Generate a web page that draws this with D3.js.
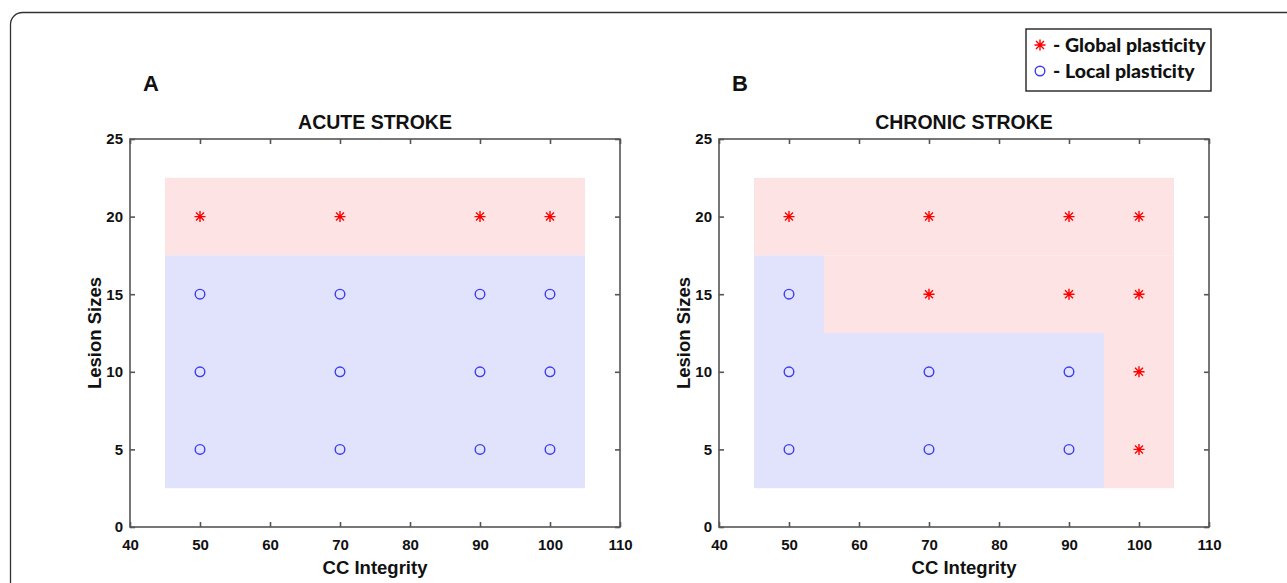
<!DOCTYPE html>
<html>
<head>
<meta charset="utf-8">
<script src="https://cdn.jsdelivr.net/npm/d3@7"></script>
<style>
  body { margin: 0; background: #fff; }
</style>
</head>
<body>
<div id="chart"></div>
<script>
// ticks
var xTicks = [40, 50, 60, 70, 80, 90, 100, 110];
var yTicks = [0, 5, 10, 15, 20, 25];

// panel A: acute stroke
var acuteGlobal = [[50, 20], [70, 20], [90, 20], [100, 20]];
var acuteLocal = [[50, 15], [70, 15], [90, 15], [100, 15],
                  [50, 10], [70, 10], [90, 10], [100, 10],
                  [50, 5], [70, 5], [90, 5], [100, 5]];
// regions as [x0, x1, y0, y1]
var acuteRed = [[45, 105, 17.5, 22.5]];
var acuteBlue = [[45, 105, 2.5, 17.5]];

// panel B: chronic stroke
var chronicGlobal = [[50, 20], [70, 20], [90, 20], [100, 20],
                     [70, 15], [90, 15], [100, 15],
                     [100, 10], [100, 5]];
var chronicLocal = [[50, 15], [50, 10], [70, 10], [90, 10],
                    [50, 5], [70, 5], [90, 5]];
var chronicRed = [[45, 105, 17.5, 22.5], [55, 105, 12.5, 17.5], [95, 105, 2.5, 12.5]];
var chronicBlue = [[45, 55, 2.5, 17.5], [55, 95, 2.5, 12.5]];

var width = 1287, height = 583;
var FONT = '"Liberation Sans", Arial, sans-serif';

var svg = d3.select('#chart').append('svg')
    .attr('width', width)
    .attr('height', height);

// outer frame of the figure
svg.append('rect')
    .attr('x', 10.5).attr('y', 12.5)
    .attr('width', 1300).attr('height', 600)
    .attr('rx', 12)
    .attr('fill', 'none')
    .attr('stroke', '#333')
    .attr('stroke-width', 1.3);

var label = function (sel, size) {
    return sel.style('font-family', FONT).style('font-weight', 'bold')
        .style('font-size', size + 'px').attr('fill', '#111');
};

var drawPanel = function (left, letter, title, reds, blues, globals, locals) {
    var x = d3.scaleLinear().domain([40, 110]).range([left, left + 490]);
    var y = d3.scaleLinear().domain([0, 25]).range([527, 139]);
    var g = svg.append('g');

    reds.forEach(function (r) {
        g.append('rect')
            .attr('x', x(r[0])).attr('y', y(r[3]))
            .attr('width', x(r[1]) - x(r[0])).attr('height', y(r[2]) - y(r[3]))
            .attr('fill', '#fde3e4');
    });
    blues.forEach(function (r) {
        g.append('rect')
            .attr('x', x(r[0])).attr('y', y(r[3]))
            .attr('width', x(r[1]) - x(r[0])).attr('height', y(r[2]) - y(r[3]))
            .attr('fill', '#e1e2fb');
    });

    // box + inward ticks
    var axCol = '#555';
    g.append('rect')
        .attr('x', x(40)).attr('y', y(25))
        .attr('width', x(110) - x(40)).attr('height', y(0) - y(25))
        .attr('fill', 'none').attr('stroke', axCol).attr('stroke-width', 1.6);

    var xAxis = g.append('g').attr('transform', 'translate(0,' + y(0) + ')')
        .call(d3.axisBottom(x).tickValues(xTicks).tickSizeInner(-5).tickSizeOuter(0).tickPadding(12));
    var yAxis = g.append('g').attr('transform', 'translate(' + x(40) + ',0)')
        .call(d3.axisLeft(y).tickValues(yTicks).tickSizeInner(-5).tickSizeOuter(0).tickPadding(7));
    var xTop = g.append('g').attr('transform', 'translate(0,' + y(25) + ')')
        .call(d3.axisTop(x).tickValues(xTicks).tickSizeInner(-5).tickSizeOuter(0).tickFormat(''));
    var yRight = g.append('g').attr('transform', 'translate(' + x(110) + ',0)')
        .call(d3.axisRight(y).tickValues(yTicks).tickSizeInner(-5).tickSizeOuter(0).tickFormat(''));
    [xAxis, yAxis, xTop, yRight].forEach(function (a) {
        a.select('.domain').remove();
        a.attr('font-size', 15).attr('font-family', FONT).attr('font-weight', 'bold');
        a.selectAll('line').attr('stroke', axCol).attr('stroke-width', 1.6);
        a.selectAll('text').attr('fill', '#111');
    });

    // markers
    var star = 'M0,-5.5V5.5M-5.5,0H5.5M-4,-4L4,4M-4,4L4,-4';
    g.selectAll('.glob').data(globals).enter().append('path')
        .attr('d', star)
        .attr('transform', function (d) { return 'translate(' + x(d[0]) + ',' + y(d[1]) + ')'; })
        .attr('stroke', '#f00').attr('stroke-width', 1.4).attr('fill', 'none');
    g.selectAll('.loc').data(locals).enter().append('circle')
        .attr('cx', function (d) { return x(d[0]); })
        .attr('cy', function (d) { return y(d[1]); })
        .attr('r', 4.8)
        .attr('stroke', '#3c3cf0').attr('stroke-width', 1.4).attr('fill', 'none');

    // labels
    label(g.append('text'), 19.5).attr('x', x(75)).attr('y', 129)
        .attr('text-anchor', 'middle').text(title);
    label(g.append('text'), 18.5).attr('x', x(75)).attr('y', 574)
        .attr('text-anchor', 'middle').text('CC Integrity');
    label(g.append('text'), 18.5)
        .attr('transform', 'translate(' + (left - 29) + ',' + y(12.5) + ') rotate(-90)')
        .attr('text-anchor', 'middle').text('Lesion Sizes');
    label(g.append('text'), 22).attr('x', left + 13).attr('y', 91).text(letter);
};

drawPanel(130, 'A', 'ACUTE STROKE', acuteRed, acuteBlue, acuteGlobal, acuteLocal);
drawPanel(719, 'B', 'CHRONIC STROKE', chronicRed, chronicBlue, chronicGlobal, chronicLocal);

// legend
var lg = svg.append('g');
lg.append('rect').attr('x', 1026).attr('y', 29).attr('width', 185).attr('height', 62)
    .attr('fill', '#fff').attr('stroke', '#222').attr('stroke-width', 1.4);
lg.append('path').attr('d', 'M0,-5.5V5.5M-5.5,0H5.5M-4,-4L4,4M-4,4L4,-4')
    .attr('transform', 'translate(1040,45)')
    .attr('stroke', '#f00').attr('stroke-width', 1.4).attr('fill', 'none');
lg.append('circle').attr('cx', 1040).attr('cy', 71).attr('r', 4.8)
    .attr('stroke', '#3c3cf0').attr('stroke-width', 1.4).attr('fill', 'none');
lg.append('text').attr('x', 1053).attr('y', 51.5)
    .style('font-family', 'Lato, sans-serif').style('font-weight', '900')
    .style('font-size', '19.5px').attr('fill', '#111').text('- Global plasticity');
lg.append('text').attr('x', 1053).attr('y', 77.5)
    .style('font-family', 'Lato, sans-serif').style('font-weight', '900')
    .style('font-size', '19.5px').attr('fill', '#111').text('- Local plasticity');
</script>
</body>
</html>
